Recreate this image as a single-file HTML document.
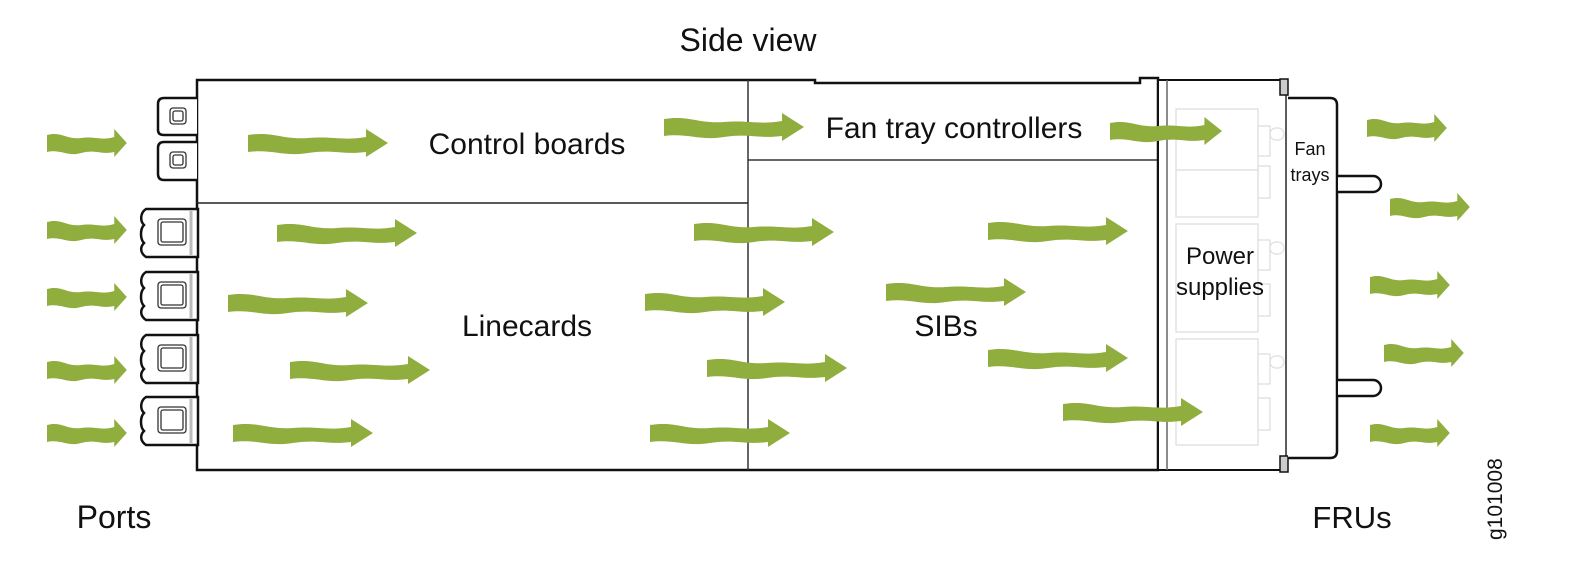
<!DOCTYPE html>
<html><head><meta charset="utf-8"><style>
html,body{margin:0;padding:0;background:#fff;}
svg text{font-family:"Liberation Sans",sans-serif;fill:#111;}
</style></head><body>
<svg width="1580" height="560" viewBox="0 0 1580 560" xmlns="http://www.w3.org/2000/svg">
<defs>
<path id="ar" d="M0,-8 C25,-12 35,-3 60,-5 C85,-7 95,-2 118,-6 V-14 L140,0 L118,14 V9 C95,12 85,6 60,10 C35,14 25,6 0,9 Z" fill="#8fae3e"/>
<path id="port" d="M0,0 H52 V48 H0 C-6,44 -6,38 -2,34 C-6,30 -6,20 -2,16 C-6,12 -6,4 0,0 Z" fill="#fff" stroke="#111" stroke-width="2.5"/>
</defs>
<text x="748" y="51" font-size="32" text-anchor="middle">Side view</text>
<!-- chassis -->
<path d="M197,470 V80 H815 V83 H1140 V78 H1158 V470 Z" fill="#fff" stroke="#111" stroke-width="2.5"/>
<line x1="748" y1="80" x2="748" y2="470" stroke="#333" stroke-width="1.5"/>
<line x1="197" y1="203" x2="748" y2="203" stroke="#222" stroke-width="1.5"/>
<line x1="748" y1="160" x2="1163" y2="160" stroke="#333" stroke-width="1.5"/>
<rect x="1158" y="80" width="128" height="390" fill="#fff" stroke="#111" stroke-width="2"/>
<line x1="1167" y1="80" x2="1167" y2="470" stroke="#666" stroke-width="1.5"/>
<line x1="1286" y1="80" x2="1286" y2="470" stroke="#777" stroke-width="1.5"/>
<g fill="none" stroke="#ddd" stroke-width="1.2">
<rect x="1176" y="109" width="82" height="61"/><rect x="1176" y="170" width="82" height="47"/>
<rect x="1176" y="224" width="82" height="108"/>
<rect x="1176" y="339" width="82" height="106"/>
<rect x="1258" y="126" width="12" height="30"/><rect x="1258" y="166" width="12" height="32"/>
<rect x="1258" y="240" width="12" height="30"/><rect x="1258" y="284" width="12" height="32"/>
<rect x="1258" y="354" width="12" height="30"/><rect x="1258" y="398" width="12" height="32"/>
<rect x="1270" y="128" width="14" height="12" rx="6"/><rect x="1270" y="242" width="14" height="12" rx="6"/><rect x="1270" y="356" width="14" height="12" rx="6"/>
</g>
<rect x="1280" y="79" width="8" height="16" fill="#ccc" stroke="#111" stroke-width="1.5"/>
<rect x="1280" y="456" width="8" height="16" fill="#ccc" stroke="#111" stroke-width="1.5"/>
<path d="M1288,98 H1330 Q1337,98 1337,105 V451 Q1337,458 1330,458 H1288" fill="#fff" stroke="#111" stroke-width="2.5"/>
<path d="M1338,176 H1373 A8,8 0 0 1 1373,192 H1338" fill="#fff" stroke="#111" stroke-width="2.5"/>
<path d="M1338,380 H1373 A8,8 0 0 1 1373,396 H1338" fill="#fff" stroke="#111" stroke-width="2.5"/>
<g fill="#fff" stroke="#111" stroke-width="2.5">
<path d="M197,98 H164 Q158,98 158,104 V130 Q158,135 164,135 H197"/>
<path d="M197,142 H164 Q158,142 158,148 V174 Q158,180 164,180 H197"/>
</g>
<g fill="none" stroke="#333" stroke-width="1.3">
<rect x="170" y="108" width="16" height="16" rx="3"/><rect x="173" y="111" width="10" height="10" rx="2"/>
<rect x="170" y="152" width="16" height="16" rx="3"/><rect x="173" y="155" width="10" height="10" rx="2"/>
</g>
<use href="#port" x="146" y="209"/><use href="#port" x="146" y="272"/><use href="#port" x="146" y="335"/><use href="#port" x="146" y="397"/>
<g fill="none" stroke="#333" stroke-width="1.3">
<rect x="158" y="219" width="28" height="26" rx="3"/><rect x="161" y="222" width="22" height="20" rx="2"/>
<rect x="158" y="282" width="28" height="26" rx="3"/><rect x="161" y="285" width="22" height="20" rx="2"/>
<rect x="158" y="345" width="28" height="26" rx="3"/><rect x="161" y="348" width="22" height="20" rx="2"/>
<rect x="158" y="407" width="28" height="26" rx="3"/><rect x="161" y="410" width="22" height="20" rx="2"/>
</g>
<g stroke="#bbb" stroke-width="3"><line x1="191" y1="211" x2="191" y2="255"/><line x1="191" y1="274" x2="191" y2="318"/><line x1="191" y1="337" x2="191" y2="381"/><line x1="191" y1="399" x2="191" y2="443"/></g>
<text x="527" y="154" font-size="30" text-anchor="middle">Control boards</text>
<text x="954" y="138" font-size="30" text-anchor="middle">Fan tray controllers</text>
<text x="527" y="336" font-size="30" text-anchor="middle">Linecards</text>
<text x="946" y="336" font-size="30" text-anchor="middle">SIBs</text>
<text x="1220" y="264" font-size="24" text-anchor="middle">Power</text>
<text x="1220" y="295" font-size="24" text-anchor="middle">supplies</text>
<text x="1310" y="155" font-size="18" text-anchor="middle">Fan</text>
<text x="1310" y="181" font-size="18" text-anchor="middle">trays</text>
<text x="114" y="528" font-size="32" text-anchor="middle">Ports</text>
<text x="1352" y="528" font-size="31" text-anchor="middle">FRUs</text>
<text transform="translate(1502,540) rotate(-90)" font-size="21">g101008</text>
<g>
<use href="#ar" transform="translate(47,143) scale(0.57,1)"/>
<use href="#ar" transform="translate(47,230) scale(0.57,1)"/>
<use href="#ar" transform="translate(47,297) scale(0.57,1)"/>
<use href="#ar" transform="translate(47,370) scale(0.57,1)"/>
<use href="#ar" transform="translate(47,433) scale(0.57,1)"/>
<use href="#ar" transform="translate(248,143)"/>
<use href="#ar" transform="translate(277,233)"/>
<use href="#ar" transform="translate(228,303)"/>
<use href="#ar" transform="translate(290,370)"/>
<use href="#ar" transform="translate(233,433)"/>
<use href="#ar" transform="translate(664,127)"/>
<use href="#ar" transform="translate(694,232)"/>
<use href="#ar" transform="translate(645,302)"/>
<use href="#ar" transform="translate(707,368)"/>
<use href="#ar" transform="translate(650,433)"/>
<use href="#ar" transform="translate(988,231)"/>
<use href="#ar" transform="translate(886,292)"/>
<use href="#ar" transform="translate(988,358)"/>
<use href="#ar" transform="translate(1063,412)"/>
<use href="#ar" transform="translate(1110,131) scale(0.8,1)"/>
<use href="#ar" transform="translate(1367,128) scale(0.57,1)"/>
<use href="#ar" transform="translate(1390,207) scale(0.57,1)"/>
<use href="#ar" transform="translate(1370,285) scale(0.57,1)"/>
<use href="#ar" transform="translate(1384,353) scale(0.57,1)"/>
<use href="#ar" transform="translate(1370,433) scale(0.57,1)"/>
</g>
</svg>
</body></html>
